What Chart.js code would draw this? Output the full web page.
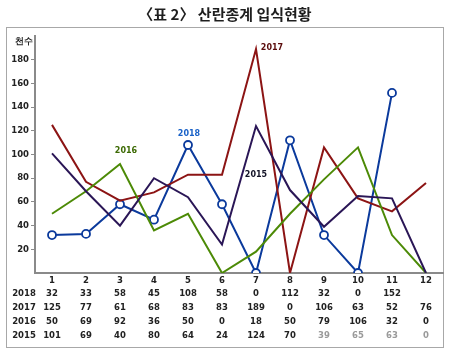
<!DOCTYPE html>
<html>
<head>
<meta charset="utf-8">
<script src="https://cdn.jsdelivr.net/npm/chart.js@4"></script>
<style>
  body { margin: 0; background: #fff; }
  canvas { display: block; }
</style>
</head>
<body>
<canvas id="chart" width="450" height="354"></canvas>
<script>
const months = ["1", "2", "3", "4", "5", "6", "7", "8", "9", "10", "11", "12"];
const years = ["2018", "2017", "2016", "2015"];
const data2018 = [32, 33, 58, 45, 108, 58, 0, 112, 32, 0, 152, null];
const data2017 = [125, 77, 61, 68, 83, 83, 189, 0, 106, 63, 52, 76];
const data2016 = [50, 69, 92, 36, 50, 0, 18, 50, 79, 106, 32, 0];
const data2015 = [101, 69, 40, 80, 64, 24, 124, 70, 39, 65, 63, 0];
const colors = { "2018": "#0b3a9c", "2017": "#8c1414", "2016": "#4c8a06", "2015": "#2a1656" };

const TITLE = "〈표 2〉 산란종계 입식현황";
const UNIT = "천수";
const FONT = "'DejaVu Sans', Verdana, sans-serif";

// 곡선 옆의 연도 이름표: [연도, 월 index, 값, x 보정, y 보정, 글자색]
const seriesLabels = [
    ["2017", 6, 189, 16, -1, "#5a0c0c"],
    ["2018", 4, 108, 1, -11, "#1a62c8"],
    ["2015", 6, 83, 0, 0, "#141428"],
    ["2016", 2, 104, 6, 1, "#3d6a04"],
];

const framePlugin = {
    id: "frame",
    beforeDraw(chart) {
        const ctx = chart.ctx;
        ctx.save();
        ctx.fillStyle = "#fff";
        ctx.fillRect(0, 0, chart.width, chart.height);
        ctx.strokeStyle = "#a8a8a8";
        ctx.lineWidth = 1;
        ctx.strokeRect(6.5, 27.5, 437, 320);
        ctx.fillStyle = "#1e1e1e";
        ctx.font = "bold 15px 'Noto Sans CJK KR', sans-serif";
        ctx.textAlign = "center";
        ctx.textBaseline = "middle";
        ctx.fillText(TITLE, 225, 14);
        ctx.font = "bold 8.5px " + FONT;
        ctx.fillStyle = "#222";
        ctx.fillText(UNIT, 24, 42);
        ctx.restore();
    },
    afterDraw(chart) {
        const ctx = chart.ctx;
        const x = chart.scales.x;
        const y = chart.scales.y;
        const rows = [data2018, data2017, data2016, data2015];
        const rowY = [294, 308, 322, 336];
        ctx.save();
        ctx.textAlign = "center";
        ctx.textBaseline = "middle";
        ctx.font = "bold 8.5px " + FONT;
        rows.forEach((row, r) => {
            ctx.fillStyle = "#222";
            ctx.fillText(years[r], 24, rowY[r]);
            row.forEach((v, i) => {
                if (v === null) return;
                // 마지막 줄 뒤쪽 숫자는 원본에서 흐리게 보임
                ctx.fillStyle = (r === 3 && i >= 8) ? "#9a9a9a" : "#222";
                ctx.fillText(String(v), x.getPixelForValue(i), rowY[r]);
            });
        });
        ctx.font = "bold 8px " + FONT;
        seriesLabels.forEach(([name, i, v, dx, dy, col]) => {
            ctx.fillStyle = col;
            ctx.fillText(name, x.getPixelForValue(i) + dx, y.getPixelForValue(v) + dy);
        });
        ctx.restore();
    }
};

function makeSet(name, values, withPoints) {
    return {
        label: name,
        data: values,
        borderColor: colors[name],
        borderWidth: 2,
        backgroundColor: "#fff",
        pointRadius: withPoints ? 4 : 0,
        pointBorderWidth: 1.8,
        pointBorderColor: colors[name],
        pointBackgroundColor: "#fff",
        tension: 0,
        fill: false,
        spanGaps: false,
    };
}

new Chart(document.getElementById("chart").getContext("2d"), {
    type: "line",
    data: {
        labels: months,
        datasets: [
            makeSet("2018", data2018, true),
            makeSet("2017", data2017, false),
            makeSet("2016", data2016, false),
            makeSet("2015", data2015, false),
        ].reverse(),
    },
    options: {
        responsive: false,
        animation: false,
        layout: { padding: { top: 36, right: 7, left: 0, bottom: 0 } },
        plugins: {
            legend: { display: false },
            tooltip: { enabled: false },
        },
        scales: {
            x: {
                offset: true,
                grid: { display: false, drawTicks: false },
                border: { display: true, color: "#8a8a8a", width: 2 },
                ticks: { color: "#222", font: { family: FONT, size: 8.5, weight: "bold" }, padding: 3, maxRotation: 0 },
                afterFit(scale) { scale.height = 81; },
            },
            y: {
                min: 0,
                max: 200,
                grid: {
                    drawOnChartArea: false,
                    drawTicks: true,
                    tickLength: 4,
                    color: (c) => (c.tick && (c.tick.value === 0 || c.tick.value === 200)) ? "rgba(0,0,0,0)" : "#8a8a8a",
                },
                border: { display: true, color: "#8a8a8a", width: 2 },
                ticks: {
                    stepSize: 20,
                    color: "#222",
                    font: { family: FONT, size: 8.5, weight: "bold" },
                    padding: 2,
                    callback: (v) => (v === 0 || v === 200) ? "" : v,
                },
                afterFit(scale) { scale.width = 35; },
            },
        },
    },
    plugins: [framePlugin],
});
</script>
</body>
</html>
